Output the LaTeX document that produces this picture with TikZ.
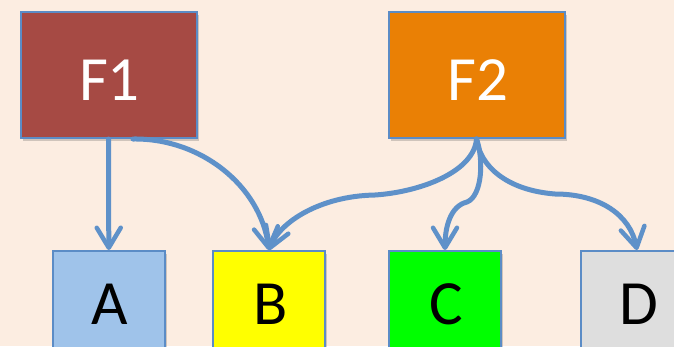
\documentclass[tikz,border=0pt]{standalone}
\usepackage{fontspec}
\setmainfont{Carlito}
\usetikzlibrary{arrows.meta,shadows}
\definecolor{paper}{HTML}{FCEDE1}
\definecolor{linkblue}{HTML}{5E91C9}
\definecolor{edgeblue}{HTML}{5B8CC6}
\definecolor{fonered}{HTML}{A64A44}
\definecolor{ftwoorange}{HTML}{EA8005}
\definecolor{aBlue}{HTML}{9FC3EA}
\definecolor{bYellow}{HTML}{FFFF00}
\definecolor{cGreen}{HTML}{00FF00}
\definecolor{dGrey}{HTML}{DEDEDE}
\tikzset{
  box/.style={draw=edgeblue, line width=2pt, inner sep=0pt,
    drop shadow={shadow xshift=2pt, shadow yshift=-3pt, opacity=0.25, fill=black!70}},
  topbox/.style={box, minimum width=176pt, minimum height=126pt},
  lowbox/.style={box, minimum width=112pt, minimum height=130pt},
  bigtext/.style={inner sep=0pt, font=\fontsize{63}{70}\selectfont},
  link/.style={draw=linkblue, line width=5pt, line cap=round, line join=round,
    -{Straight Barb[length=20pt, width=24pt, line width=4.5pt, round]}}
}
\begin{document}
\begin{tikzpicture}[x=1pt, y=-1pt]
  % page and backdrop
  \useasboundingbox (0,0) rectangle (674,346);
  \fill[paper] (0,0) rectangle (674,346);
  \clip (0,0) rectangle (674,346);

  % upper boxes
  \node[topbox, fill=fonered]    (f1) at (108.5,75) {};
  \node[topbox, fill=ftwoorange] (f2) at (477,75)   {};
  \node[bigtext, text=white] (f1t) at (109.5,80) {F1};
  \node[bigtext, text=white] (f2t) at (478,80)   {F2};

  % lower boxes (cut off by the page edge)
  \node[lowbox, fill=aBlue]   (a) at (108.8,316) {};
  \node[lowbox, fill=bYellow] (b) at (269,316)   {};
  \node[lowbox, fill=cGreen]  (c) at (445,316)   {};
  \node[lowbox, fill=dGrey]   (d) at (637,316)   {};
  \node[bigtext] (at) at (110,304)   {A};
  \node[bigtext] (bt) at (270.5,304) {B};
  \node[bigtext] (ct) at (446.5,304) {C};
  \node[bigtext] (dt) at (639,304)   {D};

  % start points of the connectors
  \coordinate (f1r) at (133,139);
  \coordinate (f2s) at (476.5,139);
  \coordinate (f2l) at (375,195);
  \coordinate (f2k) at (467,202);
  \coordinate (f2r) at (555,194);

  % connectors
  \draw[link] (f1.south) -- (a.north);
  \draw[link] (f1r) .. controls (200,138) and (260,185) .. (b.north);
  \draw[link] (f2s) .. controls (474,172) and (420,192) .. (f2l)
                    .. controls (320,196) and (280,222) .. (b.north);
  \draw[link] (f2s) .. controls (484,160) and (482,196) .. (f2k)
                    .. controls (450,206) and (445,228) .. (c.north);
  \draw[link] (f2s) .. controls (480,165) and (505,190) .. (f2r)
                    .. controls (600,194) and (630,215) .. (d.north);
\end{tikzpicture}
\end{document}
